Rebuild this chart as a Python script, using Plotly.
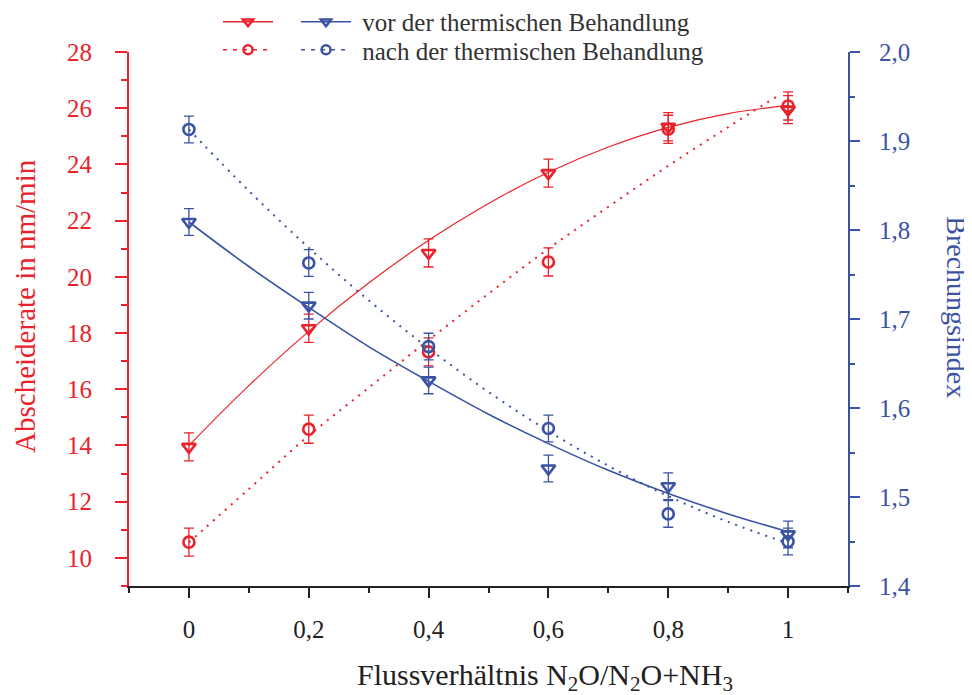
import plotly.graph_objects as go

# ---------------- data ----------------
x_ratio = [0, 0.2, 0.4, 0.6, 0.8, 1.0]
rate_before = [13.95, 18.17, 20.85, 23.69, 25.34, 25.95]
rate_after = [10.56, 14.58, 17.33, 20.53, 25.25, 26.08]
rate_err = [0.5, 0.5, 0.5, 0.5, 0.5, 0.5]
index_before = [1.809, 1.715, 1.631, 1.532, 1.512, 1.458]
index_after = [1.913, 1.763, 1.669, 1.577, 1.481, 1.450]
index_err = [0.015, 0.015, 0.015, 0.015, 0.015, 0.015]

x_fit = [0, 0.1, 0.2, 0.3, 0.4, 0.5, 0.6, 0.7, 0.8, 0.9, 1.0]
rate_before_fit = [14.0, 16.13, 18.06, 19.78, 21.3, 22.61, 23.72, 24.62, 25.32, 25.81, 26.1]
x_fit_after = [0, 0.1, 0.2, 0.3, 0.4, 0.5, 0.6, 0.7, 0.8, 0.9, 0.98]
rate_after_fit = [10.55, 12.45, 14.35, 16.05, 17.75, 19.4, 21.0, 22.49, 23.95, 25.33, 26.4]
index_before_fit = [1.809, 1.759, 1.713, 1.669, 1.630, 1.593, 1.560, 1.530, 1.504, 1.481, 1.461]
index_after_fit = [1.913, 1.844, 1.780, 1.721, 1.667, 1.618, 1.574, 1.535, 1.501, 1.472, 1.448]

label_before = "\u00a0vor der thermischen Behandlung"
label_after = "\u00a0nach der thermischen Behandlung"
x_title = "Flussverhältnis N<sub>2</sub>O/N<sub>2</sub>O+NH<sub>3</sub>"
y_title = "Abscheiderate in nm/min"
y2_title = "Brechungsindex"

RED = "#e8232b"
BLUE = "#3a53a3"
FONT = "Liberation Serif"
DOT = "2px,6px"

fig = go.Figure()

# fit curves
fig.add_trace(go.Scatter(x=x_fit, y=rate_before_fit, mode="lines", line=dict(color=RED, width=1.2, shape="spline"),
                         showlegend=False, yaxis="y"))
fig.add_trace(go.Scatter(x=x_fit_after, y=rate_after_fit, mode="lines", line=dict(color=RED, width=2, dash=DOT, shape="spline"),
                         showlegend=False, yaxis="y"))
fig.add_trace(go.Scatter(x=x_fit, y=index_before_fit, mode="lines", line=dict(color=BLUE, width=1.6, shape="spline"),
                         showlegend=False, yaxis="y2"))
fig.add_trace(go.Scatter(x=x_fit, y=index_after_fit, mode="lines", line=dict(color=BLUE, width=2, dash=DOT, shape="spline"),
                         showlegend=False, yaxis="y2"))

# data points with error bars
def pts(y, err, color, symbol, size, axis):
    return go.Scatter(x=x_ratio, y=y, mode="markers", yaxis=axis, showlegend=False,
                      marker=dict(symbol=symbol, size=size, color=color, line=dict(width=2.6, color=color)),
                      error_y=dict(type="data", array=err, color=color, thickness=1.3, width=5))

fig.add_trace(pts(rate_before, rate_err, RED, "triangle-down-open", 12, "y"))
fig.add_trace(pts(rate_after, rate_err, RED, "circle-open", 11, "y"))
fig.add_trace(pts(index_before, index_err, BLUE, "triangle-down-open", 12, "y2"))
fig.add_trace(pts(index_after, index_err, BLUE, "circle-open", 11, "y2"))

# legend entries (one legend per row and colour column)
def leg(color, symbol, dash, name, legend):
    return go.Scatter(x=[None], y=[None], mode="lines+markers", name=name, legend=legend,
                      line=dict(color=color, width=1.5, dash=dash),
                      marker=dict(symbol=symbol, size=9, color=color, line=dict(width=2.5, color=color)))

fig.add_trace(leg(RED, "triangle-down-open", "solid", " ", "legend"))
fig.add_trace(leg(BLUE, "triangle-down-open", "solid", label_before, "legend2"))
fig.add_trace(leg(RED, "circle-open", "4px,6px", " ", "legend3"))
fig.add_trace(leg(BLUE, "circle-open", "4px,6px", label_after, "legend4"))

LEG_FONT = dict(size=25, color="#333", family=FONT)
row1_y = 1.0993
row2_y = 1.0468
red_x = 0.1238
blue_x = 0.2323

def legbox(x, y):
    return dict(x=x, y=y, xanchor="left", yanchor="top", bgcolor="rgba(0,0,0,0)",
                font=LEG_FONT, itemwidth=50, tracegroupgap=0)

fig.update_layout(
    width=964, height=687,
    margin=dict(l=121, r=124, t=44, b=109, autoexpand=False),
    paper_bgcolor="white", plot_bgcolor="white",
    separators=",.",
    font=dict(family=FONT, size=25, color="#222"),
    xaxis=dict(range=[-0.1, 1.1], dtick=0.2, tick0=0, showgrid=False, zeroline=False,
               showline=True, linecolor="#222", linewidth=2,
               ticks="outside", ticklen=10, tickwidth=2, tickcolor="#222",
               ticklabelstandoff=10, tickfont=dict(size=25, color="#222", family=FONT),
               minor=dict(dtick=0.1, tick0=-0.1, ticks="outside", ticklen=5, tickwidth=2, tickcolor="#222")),
    yaxis=dict(range=[9, 28], dtick=2, tick0=0, showgrid=False, zeroline=False,
               showline=True, linecolor=RED, linewidth=2,
               ticks="outside", ticklen=12, tickwidth=2, tickcolor=RED,
               ticklabelstandoff=18, tickfont=dict(size=25, color=RED, family=FONT),
               minor=dict(dtick=1, tick0=0, ticks="outside", ticklen=6, tickwidth=2, tickcolor=RED)),
    yaxis2=dict(range=[1.4, 2.0], dtick=0.1, tick0=0, tickformat=".1f", overlaying="y", side="right", anchor="x",
                showgrid=False, zeroline=False,
                showline=True, linecolor=BLUE, linewidth=2,
                ticks="outside", ticklen=10, tickwidth=2, tickcolor=BLUE,
                ticklabelstandoff=14, tickfont=dict(size=25, color=BLUE, family=FONT),
                minor=dict(dtick=0.05, tick0=0, ticks="outside", ticklen=5, tickwidth=2, tickcolor=BLUE)),
    legend=legbox(red_x, row1_y),
    legend2=legbox(blue_x, row1_y),
    legend3=legbox(red_x, row2_y),
    legend4=legbox(blue_x, row2_y),
    annotations=[
        dict(text=y_title, xref="paper", yref="paper", x=-0.145, y=0.524, textangle=-90, showarrow=False,
             font=dict(size=29, color=RED, family=FONT), xanchor="center", yanchor="middle"),
        dict(text=y2_title, xref="paper", yref="paper", x=1.1516, y=0.522, textangle=90, showarrow=False,
             font=dict(size=28, color=BLUE, family=FONT), xanchor="center", yanchor="middle"),
        dict(text=x_title, xref="paper", yref="paper", x=0.579, y=-0.170, showarrow=False,
             font=dict(size=30, color="#222", family=FONT), xanchor="center", yanchor="middle"),
    ],
)

fig.write_html("out.html")
